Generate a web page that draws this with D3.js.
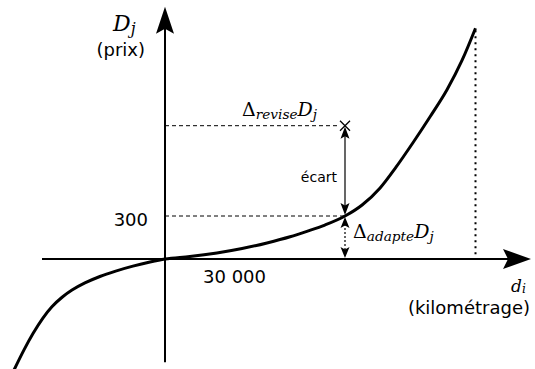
<!DOCTYPE html>
<html>
<head>
<meta charset="utf-8">
<script src="https://cdn.jsdelivr.net/npm/d3@7"></script>
<style>
  body { margin: 0; background: #fff; }
  text { fill: #000; }
  .sans { font-family: "DejaVu Sans", sans-serif; }
  .math { font-family: "DejaVu Serif", serif; }
</style>
</head>
<body>
<div id="vis"></div>
<script>
// curve of price vs distance (km in thousands, price)
let km = [-50.3, -47, -44, -40.7, -37.7, -34.3, -31, -26.7, -21.7, -16.7, -10.7, -5, 0,
          8.3, 17.3, 25.7, 34, 41.7, 47.3, 53.3, 60, 65.7, 71.7, 77, 82.7, 88.3, 94, 99, 103.5]
let prix = [-773, -634, -520, -412, -333, -267, -217, -167, -122, -86, -50, -21, 0,
            17, 42, 73, 112, 155, 193, 237, 300, 377, 496, 641, 813, 991, 1181, 1385, 1610]

// reference point and revised price
let pointKm = 60
let prixAdapte = 300
let prixRevise = 930

let tickLabels = ["300", "30 000"]

// axis extents in data units
let xExtent = [-41, 122]
let yExtent = [-720, 1760]

let svg = d3.select("#vis").append("svg")
    .attr("width", 535)
    .attr("height", 369)

let x = d3.scaleLinear().domain([0, 60]).range([165, 345])
let y = d3.scaleLinear().domain([0, 300]).range([259, 216])

// stealth arrowhead, tip at (tx,ty), pointing in direction angle (rad)
function arrowHead(tx, ty, ang, len, half, notch) {
    let ux = Math.cos(ang), uy = Math.sin(ang)
    let px = -uy, py = ux
    let bx = tx - ux * len, by = ty - uy * len
    let nx = tx - ux * (len - notch), ny = ty - uy * (len - notch)
    return `M${tx},${ty} L${bx + px * half},${by + py * half} L${nx},${ny} L${bx - px * half},${by - py * half} Z`
}

let g = svg.append("g")

// dashed guides
g.append("line")
    .attr("x1", x(0)).attr("x2", x(pointKm) - 5)
    .attr("y1", y(prixRevise)).attr("y2", y(prixRevise))
    .attr("stroke", "#000").attr("stroke-width", 1).attr("stroke-dasharray", "4,3")
g.append("line")
    .attr("x1", x(0)).attr("x2", x(pointKm))
    .attr("y1", y(prixAdapte)).attr("y2", y(prixAdapte))
    .attr("stroke", "#000").attr("stroke-width", 1).attr("stroke-dasharray", "4,3")

// dotted line at end of curve
let lastKm = km[km.length - 1], lastPrix = prix[prix.length - 1]
g.append("line")
    .attr("x1", x(lastKm)).attr("x2", x(lastKm))
    .attr("y1", y(lastPrix) + 2).attr("y2", y(0))
    .attr("stroke", "#000").attr("stroke-width", 2).attr("stroke-dasharray", "2,4")

// axes
g.append("line")
    .attr("x1", x(xExtent[0])).attr("x2", x(xExtent[1]) - 20)
    .attr("y1", y(0)).attr("y2", y(0))
    .attr("stroke", "#000").attr("stroke-width", 2)
g.append("path")
    .attr("d", arrowHead(x(xExtent[1]), y(0), 0, 28, 10, 5))
    .attr("fill", "#000")

g.append("line")
    .attr("x1", x(0)).attr("x2", x(0))
    .attr("y1", y(yExtent[0])).attr("y2", y(yExtent[1]) + 20)
    .attr("stroke", "#000").attr("stroke-width", 2)
g.append("path")
    .attr("d", arrowHead(x(0), y(yExtent[1]), -Math.PI / 2, 27, 9, 5))
    .attr("fill", "#000")

// curve
let line = d3.line()
    .x(d => x(d[0]))
    .y(d => y(d[1]))
    .curve(d3.curveMonotoneX)

g.append("path")
    .datum(d3.zip(km, prix))
    .attr("d", line)
    .attr("fill", "none")
    .attr("stroke", "#000")
    .attr("stroke-width", 3)

// écart arrow
let px0 = x(pointKm)
let yr = y(prixRevise), ya = y(prixAdapte), y0 = y(0)
g.append("line")
    .attr("x1", px0).attr("x2", px0)
    .attr("y1", yr + 8).attr("y2", ya - 8)
    .attr("stroke", "#000").attr("stroke-width", 1.2)
g.append("path").attr("d", arrowHead(px0, yr + 1, -Math.PI / 2, 12, 4.5, 2.5)).attr("fill", "#000")
g.append("path").attr("d", arrowHead(px0, ya - 1, Math.PI / 2, 12, 4.5, 2.5)).attr("fill", "#000")

// adapté arrow (dashed)
g.append("line")
    .attr("x1", px0).attr("x2", px0)
    .attr("y1", ya + 8).attr("y2", y0 - 8)
    .attr("stroke", "#000").attr("stroke-width", 1.2).attr("stroke-dasharray", "2,2")
g.append("path").attr("d", arrowHead(px0, ya + 1, -Math.PI / 2, 11, 4.5, 2.5)).attr("fill", "#000")
g.append("path").attr("d", arrowHead(px0, y0 - 1, Math.PI / 2, 11, 4.5, 2.5)).attr("fill", "#000")

// cross marker at revised price
g.append("path")
    .attr("d", `M${px0 - 5},${yr - 5} L${px0 + 5},${yr + 5} M${px0 - 5},${yr + 5} L${px0 + 5},${yr - 5}`)
    .attr("stroke", "#000").attr("stroke-width", 1.3)

// text labels
g.append("text").attr("class", "sans")
    .attr("x", x(0) - 17).attr("y", y(prixAdapte) + 10)
    .attr("text-anchor", "end").attr("font-size", 18)
    .text(tickLabels[0])
g.append("text").attr("class", "sans")
    .attr("x", x(0) + 38).attr("y", y(0) + 24)
    .attr("font-size", 18)
    .text(tickLabels[1])

g.append("text").attr("class", "sans")
    .attr("x", x(0) - 20).attr("y", 56)
    .attr("text-anchor", "end").attr("font-size", 18)
    .text("(prix)")
g.append("text").attr("class", "sans")
    .attr("x", 530).attr("y", 314)
    .attr("text-anchor", "end").attr("font-size", 18)
    .text("(kilométrage)")
g.append("text").attr("class", "sans")
    .attr("x", px0 - 8).attr("y", (yr + ya) / 2 + 11)
    .attr("text-anchor", "end").attr("font-size", 14)
    .text("écart")

// math labels
function mathLabel(x0, y0, size, parts) {
    let t = g.append("text").attr("class", "math")
        .attr("x", x0).attr("y", y0).attr("font-size", size)
    parts.forEach(p => {
        t.append("tspan")
            .attr("font-style", p.italic ? "italic" : "normal")
            .attr("font-size", p.sub ? size * 0.72 : size)
            .attr("dy", p.dy || 0)
            .text(p.t)
    })
}

mathLabel(113, 31, 22, [
    { t: "D", italic: true },
    { t: "j", italic: true, sub: true, dy: 3 }
])
mathLabel(511, 292, 17, [
    { t: "d", italic: true },
    { t: "i", italic: true, sub: true, dy: 1 }
])
mathLabel(242, 116, 19, [
    { t: "Δ" },
    { t: "revise", italic: true, sub: true, dy: 3 },
    { t: "D", italic: true, dy: -3 },
    { t: "j", italic: true, sub: true, dy: 3 }
])
mathLabel(353, 238, 19, [
    { t: "Δ" },
    { t: "adapte", italic: true, sub: true, dy: 3 },
    { t: "D", italic: true, dy: -3 },
    { t: "j", italic: true, sub: true, dy: 3 }
])
</script>
</body>
</html>
